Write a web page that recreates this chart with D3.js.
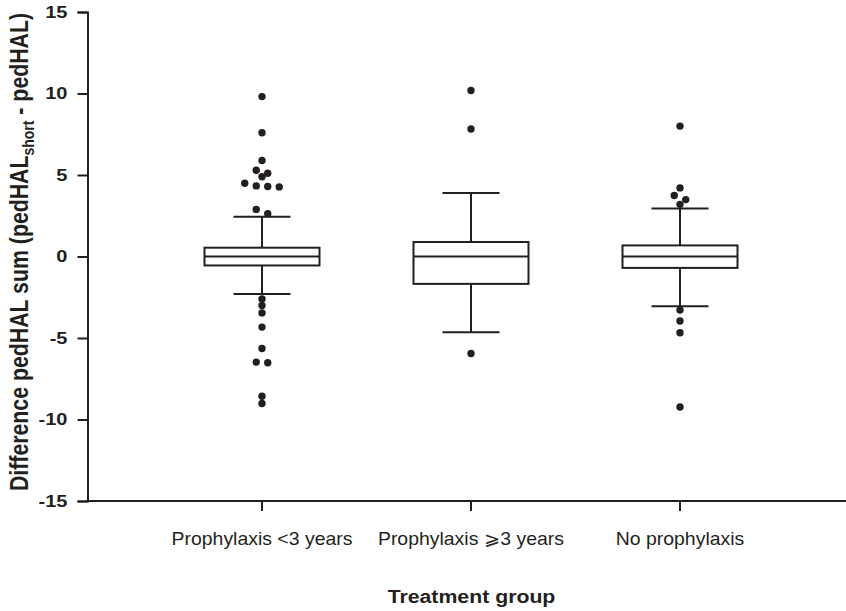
<!DOCTYPE html>
<html>
<head>
<meta charset="utf-8">
<script src="https://cdn.jsdelivr.net/npm/d3@7"></script>
<style>
  html, body { margin: 0; padding: 0; background: #fff; }
  svg { display: block; }
  text { font-family: "Liberation Sans", Arial, Helvetica, sans-serif; fill: #231f20; }
</style>
</head>
<body>
<svg id="chart" width="846" height="611"></svg>
<script>
// ---------- data ----------
const categories = ["Prophylaxis <3 years", "Prophylaxis \u2A7E3 years", "No prophylaxis"];
const whiskerLow  = [-2.30, -4.65, -3.05];
const q1          = [-0.55, -1.68, -0.70];
const median      = [0.00, 0.00, 0.00];
const q3          = [0.54, 0.89, 0.68];
const whiskerHigh = [2.44, 3.90, 2.95];
const outliersA = [9.81, 7.59, 5.89, 5.29, 5.11, 4.89, 4.49, 4.33, 4.29, 4.27, 2.89, 2.63,
                   -2.60, -3.01, -3.46, -4.33, -5.64, -6.48, -6.52, -8.57, -9.02];
const outliersB = [10.18, 7.82, -5.95];
const outliersC = [8.00, 4.21, 3.74, 3.49, 3.20, -3.28, -3.96, -4.68, -9.23];
const outliers = [outliersA, outliersB, outliersC];
const yTicks = [-15, -10, -5, 0, 5, 10, 15];
const yLabelMain = "Difference pedHAL sum (pedHAL";
const yLabelSub = "short";
const yLabelEnd = " - pedHAL)";
const xTitle = "Treatment group";

// ---------- layout ----------
const ink = "#231f20";
const axisX = 87.5, axisY = 501, axisRight = 846, axisTop = 12;
const boxWidth = 115, capWidth = 57, dotR = 3.7, dotStep = 11.5, rowTol = 0.3;

const svg = d3.select("#chart");
const y = d3.scaleLinear().domain([-15, 15]).range([axisY, axisTop]);
const x = d3.scalePoint().domain(categories).range([262, 680]);

// ---------- y axis ----------
const gy = svg.append("g").attr("transform", `translate(${axisX},0)`)
  .call(d3.axisLeft(y).tickValues(yTicks).tickSize(10).tickPadding(10).tickFormat(d => String(d)));
gy.select(".domain").attr("stroke", ink).attr("stroke-width", 2);
gy.selectAll(".tick line").attr("stroke", ink).attr("stroke-width", 2);
gy.selectAll(".tick text")
  .attr("x", null)
  .attr("transform", "translate(-20,0) scale(1.25,1)")
  .style("font-size", "16px").style("font-weight", "bold").attr("fill", ink);

// ---------- x axis ----------
svg.append("line")
  .attr("x1", axisX - 1).attr("x2", axisRight).attr("y1", axisY).attr("y2", axisY)
  .attr("stroke", ink).attr("stroke-width", 2);
svg.selectAll(".xtick").data(categories).join("line")
  .attr("class", "xtick")
  .attr("x1", d => x(d)).attr("x2", d => x(d))
  .attr("y1", axisY).attr("y2", axisY + 10)
  .attr("stroke", ink).attr("stroke-width", 2);
svg.selectAll(".xlabel").data(categories).join("text")
  .attr("class", "xlabel")
  .attr("transform", d => `translate(${x(d)},545) scale(1.08,1)`)
  .attr("text-anchor", "middle")
  .style("font-size", "18px")
  .text(d => d);

// x title
svg.append("text")
  .attr("transform", "translate(471.5,603) scale(1.15,1)")
  .attr("text-anchor", "middle")
  .style("font-size", "18.5px").style("font-weight", "bold")
  .text(xTitle);

// y title
const yt = svg.append("text")
  .attr("transform", "translate(28,252) scale(1.17,1) rotate(-90)")
  .attr("text-anchor", "middle")
  .style("font-size", "21.3px").style("font-weight", "bold");
yt.append("tspan").text(yLabelMain);
yt.append("tspan").attr("dy", 5).style("font-size", "14px").text(yLabelSub);
yt.append("tspan").attr("dy", -5).text(yLabelEnd);

// ---------- boxes ----------
const boxes = categories.map((c, i) => ({
  c, lo: whiskerLow[i], q1: q1[i], med: median[i], q3: q3[i], hi: whiskerHigh[i]
}));
const gb = svg.append("g").attr("stroke", ink).attr("stroke-width", 2).attr("fill", "none");
boxes.forEach(b => {
  const cx = x(b.c);
  gb.append("line").attr("x1", cx).attr("x2", cx).attr("y1", y(b.q3)).attr("y2", y(b.hi));
  gb.append("line").attr("x1", cx).attr("x2", cx).attr("y1", y(b.q1)).attr("y2", y(b.lo));
  gb.append("line").attr("x1", cx - capWidth / 2).attr("x2", cx + capWidth / 2).attr("y1", y(b.hi)).attr("y2", y(b.hi));
  gb.append("line").attr("x1", cx - capWidth / 2).attr("x2", cx + capWidth / 2).attr("y1", y(b.lo)).attr("y2", y(b.lo));
  gb.append("rect")
    .attr("x", cx - boxWidth / 2).attr("width", boxWidth)
    .attr("y", y(b.q3)).attr("height", y(b.q1) - y(b.q3))
    .attr("fill", "#fff");
  gb.append("line").attr("x1", cx - boxWidth / 2).attr("x2", cx + boxWidth / 2)
    .attr("y1", y(b.med)).attr("y2", y(b.med));
});

// ---------- outlier dots (rows spread symmetrically) ----------
const dots = [];
outliers.forEach((vals, i) => {
  const sorted = vals.slice().sort((a, b) => b - a);
  const rows = [];
  sorted.forEach(v => {
    const last = rows[rows.length - 1];
    if (last && Math.abs(last[0] - v) <= rowTol) last.push(v);
    else rows.push([v]);
  });
  rows.forEach(r => {
    r.forEach((v, k) => {
      dots.push({ cx: x(categories[i]) + (k - (r.length - 1) / 2) * dotStep, v });
    });
  });
});
svg.append("g").selectAll("circle").data(dots).join("circle")
  .attr("cx", d => d.cx).attr("cy", d => y(d.v)).attr("r", dotR)
  .attr("fill", ink);
</script>
</body>
</html>
